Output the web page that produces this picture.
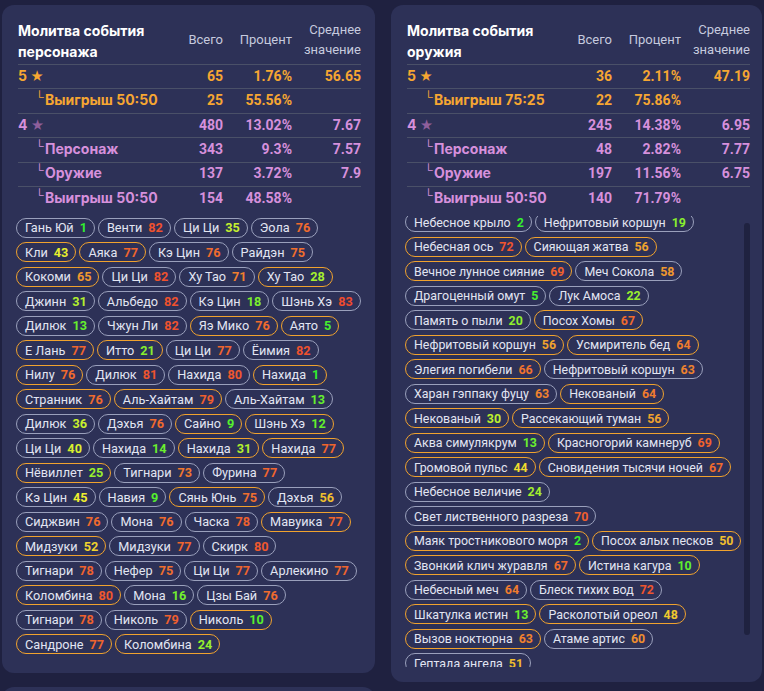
<!DOCTYPE html>
<html><head><meta charset="utf-8">
<script src="https://cdn.jsdelivr.net/npm/chart.js@4.4.1/dist/chart.umd.min.js"></script>
<style>
html,body{margin:0;padding:0;background:#1f2140;width:764px;height:691px;overflow:hidden;font-family:Roboto,"Noto Sans",sans-serif;}
.card{position:absolute;background:#2d3157;border-radius:12px;overflow:hidden;}
#cardL{left:2px;top:5px;width:373px;height:668px;}
#cardR{left:391px;top:5px;width:371px;height:677px;}
#cardB{left:2px;top:687px;width:373px;height:30px;}
.abs{position:absolute;white-space:nowrap;}
.title{color:#fff;font-weight:700;font-size:14px;line-height:21px;font-family:Inter,Roboto,sans-serif;}
.hdr{color:#c6cade;font-size:13px;line-height:20px;text-align:right;}
.sep{position:absolute;height:1px;background:#4a5068;}
.cell{font-weight:700;font-size:14px;line-height:20px;}
.lab{font-family:Inter,Roboto,sans-serif;}
.pills{position:absolute;display:flex;flex-wrap:wrap;row-gap:4.5px;column-gap:3px;align-content:flex-start;}
.pill{box-sizing:border-box;height:20px;border:1px solid #9aa0bc;border-radius:10px;padding:0 7px 0 8px;display:inline-flex;align-items:center;font-size:12.7px;color:#e2e5f2;white-space:nowrap;}
.narrow .pill{font-size:12.4px;}
.pill.lim{border-color:#f0a22e;}
.pill b{margin-left:6px;font-weight:700;}
.clip{position:absolute;overflow:hidden;}
.thumb{position:absolute;background:#1f2240;border-radius:3px;}
</style></head>
<body>
<div id="cardL" class="card"></div>
<div id="cardR" class="card"></div>
<div id="cardB" class="card"></div>
<script>
// ---- table data ----
const charTitle = ["Молитва события", "персонажа"];
const weapTitle = ["Молитва события", "оружия"];
const colHeaders = ["Всего", "Процент", ["Среднее", "значение"]];
const charRowLabels = ["5", "Выигрыш 50:50", "4", "Персонаж", "Оружие", "Выигрыш 50:50"];
const charTotals = ["65", "25", "480", "343", "137", "154"];
const charPercents = ["1.76%", "55.56%", "13.02%", "9.3%", "3.72%", "48.58%"];
const charAverages = ["56.65", "", "7.67", "7.57", "7.9", ""];
const weapRowLabels = ["5", "Выигрыш 75:25", "4", "Персонаж", "Оружие", "Выигрыш 50:50"];
const weapTotals = ["36", "22", "245", "48", "197", "140"];
const weapPercents = ["2.11%", "75.86%", "14.38%", "2.82%", "11.56%", "71.79%"];
const weapAverages = ["47.19", "", "6.95", "7.77", "6.75", ""];
const rowTier = [5, 5, 4, 4, 4, 4];
const rowSub = [0, 1, 0, 1, 1, 1];

// ---- pull history ----
const charNames = ["Гань Юй","Венти","Ци Ци","Эола","Кли","Аяка","Кэ Цин","Райдэн","Кокоми","Ци Ци","Ху Тао","Ху Тао","Джинн","Альбедо","Кэ Цин","Шэнь Хэ","Дилюк","Чжун Ли","Яэ Мико","Аято","Е Лань","Итто","Ци Ци","Ёимия","Нилу","Дилюк","Нахида","Нахида","Странник","Аль-Хайтам","Аль-Хайтам","Дилюк","Дэхья","Сайно","Шэнь Хэ","Ци Ци","Нахида","Нахида","Нахида","Нёвиллет","Тигнари","Фурина","Кэ Цин","Навия","Сянь Юнь","Дэхья","Сиджвин","Мона","Часка","Мавуика","Мидзуки","Мидзуки","Скирк","Тигнари","Нефер","Ци Ци","Арлекино","Коломбина","Мона","Цзы Бай","Тигнари","Николь","Николь","Сандроне","Коломбина"];
const charPity = [1,82,35,76,43,77,76,75,65,82,71,28,31,82,18,83,13,82,76,5,77,21,77,82,76,81,80,1,76,79,13,36,76,9,12,40,14,31,77,25,73,77,45,9,75,56,76,76,78,77,52,77,80,78,75,77,77,80,16,76,78,79,10,77,24];
const charFeatured = [0,0,0,0,1,1,0,0,1,0,0,1,0,0,0,0,0,0,1,1,1,1,0,0,1,0,0,1,1,1,0,0,0,1,1,0,0,1,1,1,0,0,0,0,1,0,0,0,0,1,1,0,0,0,0,0,0,1,0,0,0,0,1,1,1];
const weapNames = ["Небесное крыло","Нефритовый коршун","Небесная ось","Сияющая жатва","Вечное лунное сияние","Меч Сокола","Драгоценный омут","Лук Амоса","Память о пыли","Посох Хомы","Нефритовый коршун","Усмиритель бед","Элегия погибели","Нефритовый коршун","Харан гэппаку фуцу","Некованый","Некованый","Рассекающий туман","Аква симулякрум","Красногорий камнеруб","Громовой пульс","Сновидения тысячи ночей","Небесное величие","Свет лиственного разреза","Маяк тростникового моря","Посох алых песков","Звонкий клич журавля","Истина кагура","Небесный меч","Блеск тихих вод","Шкатулка истин","Расколотый ореол","Вызов ноктюрна","Атаме артис","Гептада ангела"];
const weapPity = [2,19,72,56,69,58,5,22,20,67,56,64,66,63,63,64,30,56,13,69,44,67,24,70,2,50,67,10,64,72,13,48,63,60,51];
const weapFeatured = [0,0,1,1,1,0,0,0,0,1,1,1,1,0,0,1,1,1,1,1,1,1,0,0,1,1,1,1,0,0,1,1,1,0,0];
const charHardPity = 90, weapHardPity = 80;

const ORANGE = "#f6a632", PURPLE = "#d690dc", PURPLE_STAR = "#8f5f9c";

function el(parent, cls, css, html) {
  const d = document.createElement("div");
  if (cls) d.className = cls;
  if (css) d.style.cssText = css;
  if (html !== undefined) d.innerHTML = html;
  parent.appendChild(d);
  return d;
}

function buildTable(card, title, labels, totals, percents, avgs) {
  const W = card.clientWidth;
  el(card, "abs title", "left:16px;top:15px;", title[0]);
  el(card, "abs title", "left:16px;top:36px;", title[1]);
  el(card, "abs hdr", "right:" + (W - 221) + "px;top:25px;", colHeaders[0]);
  el(card, "abs hdr", "right:" + (W - 290) + "px;top:25px;", colHeaders[1]);
  el(card, "abs hdr", "right:" + (W - 359) + "px;top:15px;", colHeaders[2][0]);
  el(card, "abs hdr", "right:" + (W - 359) + "px;top:35px;", colHeaders[2][1]);
  const seps = [59, 83, 108, 132, 157, 181];
  const centers = [71, 95, 120, 144, 168, 193];
  seps.forEach(y => el(card, "sep", "left:16px;width:343px;top:" + y + "px;"));
  labels.forEach((lab, i) => {
    const color = rowTier[i] === 5 ? ORANGE : PURPLE;
    const top = centers[i] - 10;
    if (rowSub[i]) {
      el(card, "abs", "left:33px;top:" + (top - 3) + "px;font-size:12px;line-height:20px;color:" + color + ";", "&#x2514;");
      el(card, "abs cell lab", "left:43px;top:" + top + "px;color:" + color + ";", lab);
    } else {
      const starColor = rowTier[i] === 5 ? ORANGE : PURPLE_STAR;
      el(card, "abs cell lab", "left:16px;top:" + top + "px;color:" + color + ";", lab + ' <span style="font-size:13px;color:' + starColor + ';">★</span>');
    }
    el(card, "abs cell", "right:" + (W - 221) + "px;top:" + top + "px;color:" + color + ";", totals[i]);
    el(card, "abs cell", "right:" + (W - 290) + "px;top:" + top + "px;color:" + color + ";", percents[i]);
    el(card, "abs cell", "right:" + (W - 359) + "px;top:" + top + "px;color:" + color + ";", avgs[i]);
  });
}

function pityColor(p, hard) {
  const h = Math.max(0, 120 * (1 - p / hard));
  return "hsl(" + h.toFixed(0) + ",86%,56%)";
}

function buildPills(container, names, pity, featured, hard) {
  names.forEach((n, i) => {
    el(container, "pill" + (featured[i] ? " lim" : ""), "", n + '<b style="color:' + pityColor(pity[i], hard) + ';">' + pity[i] + "</b>");
  });
}

const cardL = document.getElementById("cardL");
const cardR = document.getElementById("cardR");
buildTable(cardL, charTitle, charRowLabels, charTotals, charPercents, charAverages);
buildTable(cardR, weapTitle, weapRowLabels, weapTotals, weapPercents, weapAverages);

const pl = el(cardL, "pills", "left:14px;top:212.5px;width:348px;");
buildPills(pl, charNames, charPity, charFeatured, charHardPity);

const clip = el(cardR, "clip", "left:14px;top:211px;width:338px;height:451px;");
const pr = el(clip, "pills narrow", "left:0;top:-4px;width:337px;");
buildPills(pr, weapNames, weapPity, weapFeatured, weapHardPity);
el(cardR, "thumb", "left:353px;top:218px;width:6px;height:412px;");
</script>
</body></html>
